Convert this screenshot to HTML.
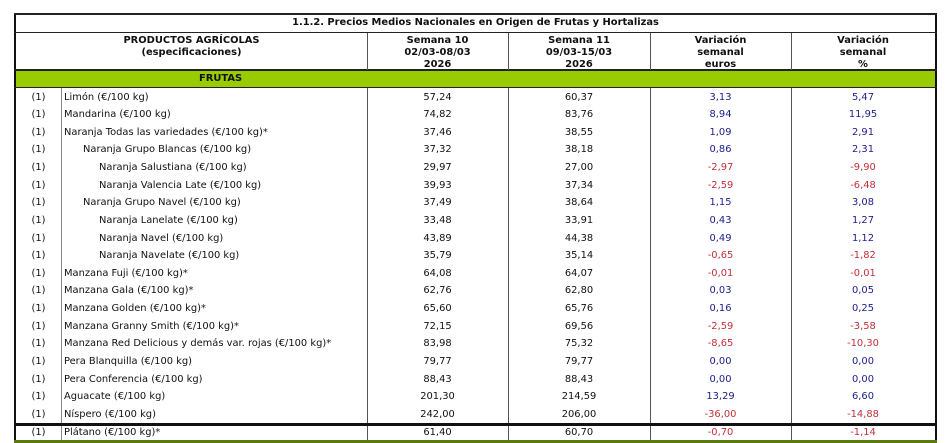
<!DOCTYPE html>
<html><head><meta charset="utf-8"><style>
body{margin:0;width:948px;height:443px;background:#fff;position:relative;overflow:hidden;font-family:"DejaVu Sans","Liberation Sans",sans-serif;font-size:9.9px;color:#111}
.a{position:absolute;white-space:nowrap}
.c{text-align:center}
.b{font-weight:bold}
.vl{position:absolute;background:#555;width:1px}
.hl{position:absolute;background:#222;height:1px}
.bl{color:#1c1c8c}.rd{color:#c0303a}
</style></head><body>
<div class="a" style="left:14px;top:13px;width:2px;height:430px;background:#111"></div>
<div class="a" style="left:935px;top:13px;width:2px;height:430px;background:#111"></div>
<div class="hl" style="left:14px;top:13px;width:923px;height:2px"></div>
<div class="hl" style="left:14px;top:32px;width:923px"></div>
<div class="hl" style="left:14px;top:69px;width:923px;height:2px"></div>
<div class="a" style="left:16px;top:71px;width:919px;height:16px;background:#99cc00"></div>
<div class="hl" style="left:14px;top:87px;width:923px"></div>
<div class="vl" style="left:367px;top:33px;height:37px"></div>
<div class="vl" style="left:508px;top:33px;height:37px"></div>
<div class="vl" style="left:650px;top:33px;height:37px"></div>
<div class="vl" style="left:791px;top:33px;height:37px"></div>
<div class="vl" style="left:61px;top:88px;height:335px;background:#888"></div>
<div class="vl" style="left:367px;top:88px;height:335px"></div>
<div class="vl" style="left:508px;top:88px;height:335px"></div>
<div class="vl" style="left:650px;top:88px;height:335px"></div>
<div class="vl" style="left:791px;top:88px;height:335px"></div>
<div class="a" style="left:14px;top:423px;width:923px;height:3px;background:#111"></div>
<div class="vl" style="left:61px;top:426px;height:15px;background:#888"></div>
<div class="vl" style="left:367px;top:426px;height:15px"></div>
<div class="vl" style="left:508px;top:426px;height:15px"></div>
<div class="vl" style="left:650px;top:426px;height:15px"></div>
<div class="vl" style="left:791px;top:426px;height:15px"></div>
<div class="a" style="left:14px;top:440px;width:923px;height:3px;background:#5a7a10"></div>

<div class="a c b" style="left:16px;width:919px;top:17px">1.1.2. Precios Medios Nacionales en Origen de Frutas y Hortalizas</div>
<div class="a c b" style="left:16px;width:351px;top:35px;line-height:12px">PRODUCTOS AGRÍCOLAS<br>(especificaciones)</div>
<div class="a c b" style="left:367px;width:141px;top:35px;line-height:12px">Semana 10<br>02/03-08/03<br>2026</div>
<div class="a c b" style="left:508px;width:142px;top:35px;line-height:12px">Semana 11<br>09/03-15/03<br>2026</div>
<div class="a c b" style="left:650px;width:141px;top:35px;line-height:12px">Variación<br>semanal<br>euros</div>
<div class="a c b" style="left:791px;width:144px;top:35px;line-height:12px">Variación<br>semanal<br>%</div>
<div class="a b" style="left:199px;top:73px">FRUTAS</div>

<div id="rows"></div>
<script>
var d=[
[0,"Limón (€/100 kg)","57,24","60,37","3,13","5,47"],
[0,"Mandarina (€/100 kg)","74,82","83,76","8,94","11,95"],
[0,"Naranja Todas las variedades (€/100 kg)*","37,46","38,55","1,09","2,91"],
[1,"Naranja Grupo Blancas (€/100 kg)","37,32","38,18","0,86","2,31"],
[2,"Naranja Salustiana (€/100 kg)","29,97","27,00","-2,97","-9,90"],
[2,"Naranja Valencia Late (€/100 kg)","39,93","37,34","-2,59","-6,48"],
[1,"Naranja Grupo Navel (€/100 kg)","37,49","38,64","1,15","3,08"],
[2,"Naranja Lanelate (€/100 kg)","33,48","33,91","0,43","1,27"],
[2,"Naranja Navel (€/100 kg)","43,89","44,38","0,49","1,12"],
[2,"Naranja Navelate (€/100 kg)","35,79","35,14","-0,65","-1,82"],
[0,"Manzana Fuji (€/100 kg)*","64,08","64,07","-0,01","-0,01"],
[0,"Manzana Gala (€/100 kg)*","62,76","62,80","0,03","0,05"],
[0,"Manzana Golden (€/100 kg)*","65,60","65,76","0,16","0,25"],
[0,"Manzana Granny Smith (€/100 kg)*","72,15","69,56","-2,59","-3,58"],
[0,"Manzana Red Delicious y demás var. rojas (€/100 kg)*","83,98","75,32","-8,65","-10,30"],
[0,"Pera Blanquilla (€/100 kg)","79,77","79,77","0,00","0,00"],
[0,"Pera Conferencia (€/100 kg)","88,43","88,43","0,00","0,00"],
[0,"Aguacate (€/100 kg)","201,30","214,59","13,29","6,60"],
[0,"Níspero (€/100 kg)","242,00","206,00","-36,00","-14,88"],
[0,"Plátano (€/100 kg)*","61,40","60,70","-0,70","-1,14"]];
var h="";
d.forEach(function(r,i){var y=Math.round(91.5+i*17.63);if(i==19)y=427;
var cl=r[4][0]=="-"?"rd":"bl";
h+='<div class="a c" style="left:16px;width:45px;top:'+y+'px">(1)</div>';
h+='<div class="a" style="left:'+(64+r[0]*19+(r[0]==2?-3:0))+'px;top:'+y+'px">'+r[1]+'</div>';
h+='<div class="a c" style="left:367px;width:141px;top:'+y+'px">'+r[2]+'</div>';
h+='<div class="a c" style="left:508px;width:142px;top:'+y+'px">'+r[3]+'</div>';
h+='<div class="a c '+cl+'" style="left:650px;width:141px;top:'+y+'px">'+r[4]+'</div>';
h+='<div class="a c '+cl+'" style="left:791px;width:144px;top:'+y+'px">'+r[5]+'</div>';});
document.getElementById("rows").innerHTML=h;
</script>
</body></html>
